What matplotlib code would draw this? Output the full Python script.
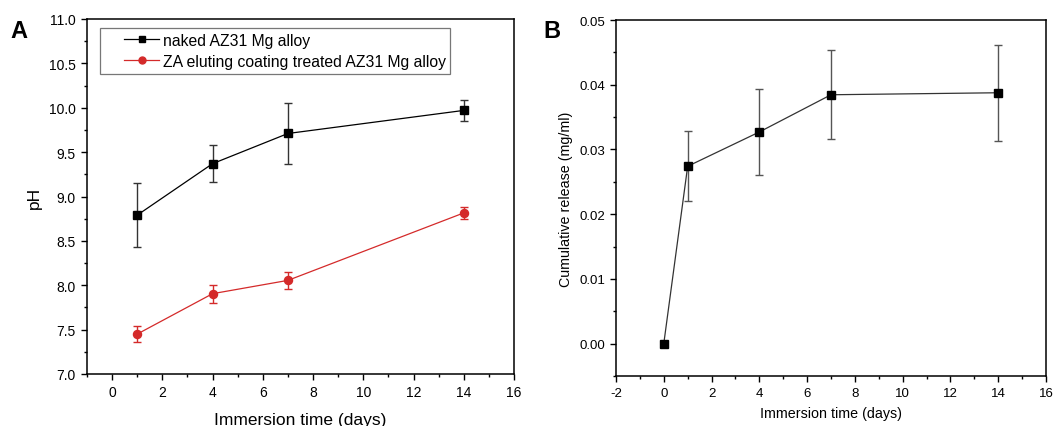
import matplotlib

matplotlib.use("Agg")
from matplotlib import pyplot as plt
from matplotlib.legend_handler import HandlerLine2D
from matplotlib.lines import Line2D
from matplotlib.ticker import MultipleLocator

plt.rcParams["font.family"] = ["Liberation Sans", "DejaVu Sans"]
plt.rcParams["axes.unicode_minus"] = False

# Panel A: pH of the immersion solution
days_a = [1, 4, 7, 14]
ph_naked = [8.79, 9.37, 9.71, 9.97]
ph_naked_err = [0.36, 0.21, 0.345, 0.115]
ph_coated = [7.45, 7.905, 8.055, 8.815]
ph_coated_err = [0.094, 0.10, 0.095, 0.07]

# Panel B: cumulative ZA release
days_b = [0, 1, 4, 7, 14]
release = [0.0, 0.0274, 0.0327, 0.03845, 0.03876]
release_err = [0.0, 0.0054, 0.0066, 0.0069, 0.0074]

RED = "#d42a2a"
W, H = 1062, 427
fig = plt.figure(figsize=(W / 100, H / 100), dpi=100)


class IndentedLine(HandlerLine2D):
    # leaves blank space on the left of the handle, like the original legend
    def create_artists(self, legend, orig_handle, xdescent, ydescent, width, height,
                       fontsize, trans):
        shift = 0.36 * width
        return super().create_artists(legend, orig_handle, xdescent - shift, ydescent,
                                      width - shift, height, fontsize, trans)


def px_axes(left, top, right, bottom):
    return fig.add_axes([left / W, 1 - bottom / H, (right - left) / W, (bottom - top) / H])


def style(ax, tick_size):
    for side in ("top", "right", "left", "bottom"):
        ax.spines[side].set_linewidth(1.1)
    ax.tick_params(which="both", direction="out", top=False, right=False,
                   labelsize=tick_size, width=1.0)
    ax.tick_params(which="major", length=4.5)
    ax.tick_params(which="minor", length=2.5)


ax_a = px_axes(87, 20, 514, 375)
ax_a.errorbar(days_a, ph_naked, yerr=ph_naked_err, color="black", ecolor="#333333",
              marker="s", markersize=5.8, linewidth=0.9, elinewidth=1.0, capsize=3)
ax_a.errorbar(days_a, ph_coated, yerr=ph_coated_err, color=RED, ecolor=RED,
              marker="o", markersize=5.8, linewidth=0.9, elinewidth=1.0, capsize=3)
ax_a.set_xlim(-1, 16)
ax_a.set_ylim(7.0, 11.0)
ax_a.xaxis.set_major_locator(MultipleLocator(2))
ax_a.xaxis.set_minor_locator(MultipleLocator(1))
ax_a.yaxis.set_major_locator(MultipleLocator(0.5))
ax_a.yaxis.set_minor_locator(MultipleLocator(0.25))
ax_a.yaxis.set_major_formatter(plt.FormatStrFormatter("%.1f"))
style(ax_a, 10)
ax_a.set_xlabel("Immersion time (days)", fontsize=12.5, labelpad=9)
ax_a.set_ylabel("pH", fontsize=12.5, labelpad=5)
handles = [
    Line2D([], [], color="black", marker="s", markersize=5, linewidth=0.9),
    Line2D([], [], color=RED, marker="o", markersize=5, linewidth=0.9),
]
leg = ax_a.legend(handles, ["naked AZ31 Mg alloy", "ZA eluting coating treated AZ31 Mg alloy"],
                  loc="upper left", bbox_to_anchor=(0.03, 0.975), borderaxespad=0,
                  fontsize=11.3, fancybox=False, edgecolor="#777777", framealpha=1,
                  borderpad=0.3, handlelength=3.5, handletextpad=0.2, labelspacing=0.4,
                  handler_map={Line2D: IndentedLine()})
leg.get_frame().set_linewidth(0.9)
fig.text(10 / W, 1 - 31 / H, "A", fontsize=17, fontweight="bold", va="center")

ax_b = px_axes(616, 21, 1046, 377)
ax_b.errorbar(days_b, release, yerr=release_err, color="#333333", ecolor="#555555",
              marker="s", markersize=5.8, markerfacecolor="black", markeredgecolor="black",
              linewidth=0.9, elinewidth=1.0, capsize=3)
ax_b.set_xlim(-2, 16)
ax_b.set_ylim(-0.005, 0.05)
ax_b.xaxis.set_major_locator(MultipleLocator(2))
ax_b.xaxis.set_minor_locator(MultipleLocator(1))
ax_b.yaxis.set_major_locator(MultipleLocator(0.01))
ax_b.yaxis.set_minor_locator(MultipleLocator(0.005))
ax_b.yaxis.set_major_formatter(plt.FormatStrFormatter("%.2f"))
style(ax_b, 9.5)
ax_b.set_xlabel("Immersion time (days)", fontsize=10.3, labelpad=5)
ax_b.set_ylabel("Cumulative release (mg/ml)", fontsize=10.3, labelpad=4)
fig.text(543 / W, 1 - 31 / H, "B", fontsize=17, fontweight="bold", va="center")

fig.savefig("out.png", dpi=100)
plt.close(fig)
